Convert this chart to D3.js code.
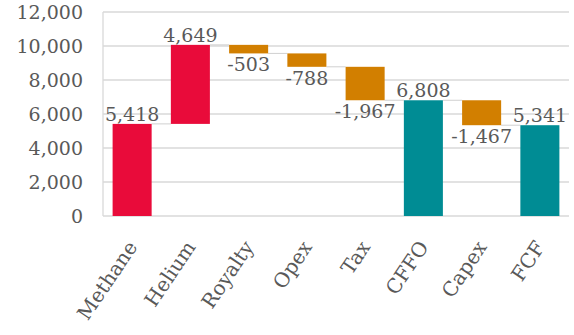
<!DOCTYPE html>
<html>
<head>
<meta charset="utf-8">
<script src="https://cdn.jsdelivr.net/npm/d3@7"></script>
<style>
  body { margin: 0; background: #fff; }
  text { font-family: "DejaVu Serif", "Liberation Serif", serif; fill: #595959; }
</style>
</head>
<body>
<div id="chart"></div>
<script>
// waterfall data
const categories = ["Methane", "Helium", "Royalty", "Opex", "Tax", "CFFO", "Capex", "FCF"];
const values = [5418, 4649, -503, -788, -1967, 6808, -1467, 5341];
const kinds = ["income", "income", "cost", "cost", "cost", "total", "cost", "total"];
const yTicks = [0, 2000, 4000, 6000, 8000, 10000, 12000];

const colors = { income: "#E90B3A", cost: "#D27F00", total: "#008C94" };

// plain hyphen as minus sign, like the original
const fmt = d3.formatLocale({ decimal: ".", thousands: ",", grouping: [3], currency: ["", ""], minus: "-" }).format(",");

const margin = { top: 12, right: 5, bottom: 119, left: 103 },
    width = 574 - margin.left - margin.right,
    height = 335 - margin.top - margin.bottom;

const svg = d3.select("#chart")
    .append("svg")
    .attr("width", width + margin.left + margin.right)
    .attr("height", height + margin.top + margin.bottom)
    .append("g")
    .attr("transform", `translate(${margin.left},${margin.top})`);

// running totals -> start / end of each bar
let running = 0;
const data = categories.map((c, i) => {
    let start, end;
    if (kinds[i] === "total") {
        start = 0; end = values[i]; running = values[i];
    } else {
        start = running; end = running + values[i]; running = end;
    }
    return { name: c, value: values[i], kind: kinds[i], start: start, end: end };
});

const x = d3.scaleBand()
    .domain(categories)
    .range([0, width])
    .paddingInner(0.33)
    .paddingOuter(0.165);

const y = d3.scaleLinear()
    .domain([0, 12000])
    .range([height, 0]);

// gridlines
svg.append("g")
    .selectAll("line")
    .data(yTicks)
    .join("line")
    .attr("x1", 0)
    .attr("x2", width)
    .attr("y1", d => y(d))
    .attr("y2", d => y(d))
    .attr("stroke", "#d9d9d9")
    .attr("stroke-width", 1.3);

// left axis line
svg.append("line")
    .attr("x1", 0).attr("x2", 0)
    .attr("y1", 0).attr("y2", height)
    .attr("stroke", "#d9d9d9")
    .attr("stroke-width", 1.3);

// Y axis labels
const yAxis = svg.append("g")
    .call(d3.axisLeft(y).tickValues(yTicks).tickSize(0).tickPadding(20).tickFormat(fmt));
yAxis.select(".domain").remove();
yAxis.selectAll("text")
    .attr("font-size", "19px")
    .attr("font-family", null)
    .attr("fill", "#595959");

// connectors
svg.append("g")
    .selectAll("line")
    .data(data.slice(0, -1))
    .join("line")
    .attr("x1", d => x(d.name) + x.bandwidth())
    .attr("x2", (d, i) => x(categories[i + 1]))
    .attr("y1", d => y(d.end))
    .attr("y2", d => y(d.end))
    .attr("stroke", "#d0d0d0")
    .attr("stroke-width", 1);

// bars
svg.append("g")
    .selectAll("rect")
    .data(data)
    .join("rect")
    .attr("x", d => x(d.name))
    .attr("width", x.bandwidth())
    .attr("y", d => y(Math.max(d.start, d.end)))
    .attr("height", d => Math.abs(y(d.start) - y(d.end)))
    .attr("fill", d => colors[d.kind]);

// value labels
svg.append("g")
    .selectAll("text")
    .data(data)
    .join("text")
    .attr("x", d => x(d.name) + x.bandwidth() / 2)
    .attr("y", d => d.value >= 0 ? y(Math.max(d.start, d.end)) - 3 : y(Math.min(d.start, d.end)) + 18)
    .attr("text-anchor", "middle")
    .attr("font-size", "19px")
    .text(d => fmt(d.value));

// X axis labels
const xAxis = svg.append("g")
    .attr("transform", `translate(0, ${height})`)
    .call(d3.axisBottom(x).tickSize(0).tickPadding(0));
xAxis.select(".domain").remove();
xAxis.selectAll("text")
    .attr("font-size", "20px")
    .attr("font-family", null)
    .attr("fill", "#595959")
    .attr("text-anchor", "end")
    .attr("dy", null)
    .attr("transform", "translate(6, 31) rotate(-56)");
</script>
</body>
</html>
